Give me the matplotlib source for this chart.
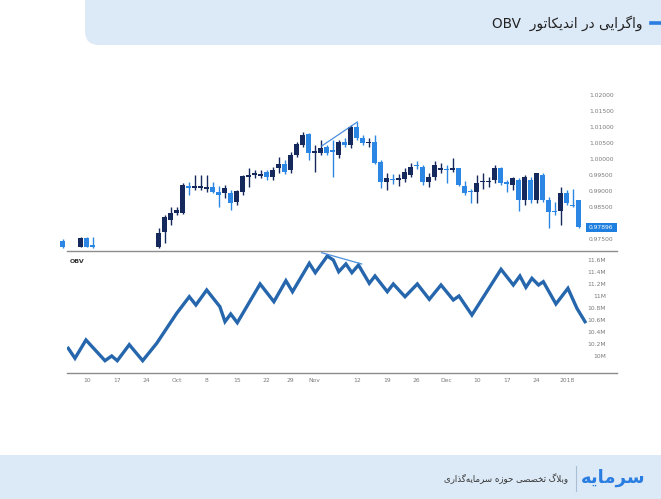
import matplotlib
matplotlib.use("Agg")
import matplotlib.pyplot as plt
from matplotlib.patches import FancyBboxPatch, Rectangle
from matplotlib.lines import Line2D
import matplotlib.transforms as mtransforms

# ---------------- data ----------------
candle_idx = [0, 3, 4, 5] + list(range(16, 87))
opens = [0.97476, 0.97289, 0.97560, 0.97340,
         0.97289, 0.97747, 0.98122, 0.98340, 0.98350, 0.99183, 0.99120, 0.99110, 0.99080, 0.99161,
         0.99005, 0.98964, 0.98964, 0.98693, 0.99005, 0.99473, 0.99526, 0.99510, 0.99629, 0.99473,
         0.99744, 0.99869, 0.99682, 1.00150, 1.00462, 1.00805, 1.00222, 1.00212, 1.00399, 1.00306,
         1.00150, 1.00565, 1.00462, 1.01033, 1.00680, 1.00524, 1.00565, 0.99941, 0.99317, 0.99416,
         0.99370, 0.99401, 0.99526, 0.99854, 0.99785, 0.99317, 0.99473, 0.99698, 0.99729, 0.99682,
         0.99730, 0.99183, 0.99042, 0.99005, 0.99308, 0.99308, 0.99370, 0.99735, 0.99308, 0.99214,
         0.99370, 0.98746, 0.99370, 0.98746, 0.99526, 0.98746, 0.98418, 0.98412, 0.98974, 0.98606,
         0.98746]
highs = [0.97529, 0.97591, 0.97600, 0.97580,
         0.97872, 0.98278, 0.98527, 0.98527, 0.99286, 0.99317, 0.99526, 0.99526, 0.99526, 0.99317,
         0.99183, 0.99214, 0.99058, 0.99058, 0.99526, 0.99744, 0.99682, 0.99682, 0.99682, 0.99785,
         1.00097, 0.99994, 1.00253, 1.00565, 1.00877, 1.00827, 1.00462, 1.00618, 1.00462, 1.00618,
         1.00618, 1.00680, 1.01086, 1.01189, 1.00774, 1.00680, 1.00774, 0.99994, 0.99579, 0.99557,
         0.99557, 0.99735, 0.99891, 0.99972, 0.99838, 0.99579, 0.99972, 0.99891, 0.99838, 1.00047,
         0.99740, 0.99339, 0.99089, 0.99526, 0.99598, 0.99473, 0.99838, 0.99785, 0.99370, 0.99473,
         0.99432, 0.99526, 0.99473, 0.99598, 0.99579, 0.98849, 0.98693, 0.99142, 0.99049, 0.99080,
         0.98760]
lows = [0.97264, 0.97273, 0.97273, 0.97240,
        0.97248, 0.97404, 0.97966, 0.98278, 0.98309, 0.98902, 0.99058, 0.99058, 0.99005, 0.98955,
        0.98537, 0.98808, 0.98434, 0.98590, 0.98902, 0.99161, 0.99423, 0.99432, 0.99370, 0.99370,
        0.99579, 0.99557, 0.99579, 1.00097, 1.00409, 0.99994, 0.99629, 1.00150, 1.00150, 0.99473,
        1.00056, 1.00409, 1.00359, 1.00618, 1.00462, 1.00409, 0.99870, 0.99120, 0.99058, 0.99245,
        0.99183, 0.99317, 0.99473, 0.99713, 0.99214, 0.99142, 0.99370, 0.99579, 0.99286, 0.99629,
        0.99190, 0.98902, 0.98652, 0.98652, 0.99080, 0.99161, 0.99267, 0.99214, 0.99005, 0.99058,
        0.98412, 0.98590, 0.98643, 0.98643, 0.98693, 0.97863, 0.98278, 0.97966, 0.98590, 0.98518,
        0.97880]
closes = [0.97289, 0.97560, 0.97289, 0.97290,
          0.97716, 0.98215, 0.98340, 0.98434, 0.99214, 0.99120, 0.99183, 0.99190, 0.99152, 0.99005,
          0.98902, 0.99120, 0.98652, 0.99036, 0.99495, 0.99526, 0.99579, 0.99560, 0.99473, 0.99682,
          0.99869, 0.99629, 1.00150, 1.00493, 1.00774, 1.00212, 1.00275, 1.00368, 1.00222, 1.00244,
          1.00565, 1.00462, 1.01033, 1.00680, 1.00524, 1.00565, 0.99891, 0.99317, 0.99442, 0.99370,
          0.99432, 0.99629, 0.99785, 0.99807, 0.99317, 0.99473, 0.99838, 0.99744, 0.99698, 0.99744,
          0.99214, 0.98955, 0.98996, 0.99276, 0.99348, 0.99348, 0.99744, 0.99286, 0.99261, 0.99423,
          0.98746, 0.99473, 0.98746, 0.99579, 0.98746, 0.98381, 0.98372, 0.98974, 0.98662, 0.98559,
          0.97896]

obv_x = [0.93, 2.05, 3.88, 7.05, 8.17, 9.1, 11.1, 13.33, 15.67, 19.0, 21.1, 22.2, 24.0, 26.2,
         27.05, 28.0, 29.1, 32.9, 35.2, 37.2, 38.3, 41.1, 42.1, 44.1, 45.1, 46.0, 47.2, 48.2,
         49.3, 51.1, 52.05, 54.1, 55.1, 57.05, 59.1, 61.1, 63.05, 65.1, 66.05, 68.2, 73.05,
         75.1, 76.2, 77.2, 78.2, 79.3, 80.1, 82.2, 84.2, 85.7, 87.05]
obv_m = [10.138, 9.973, 10.276, 9.933, 10.011, 9.933, 10.198, 9.933, 10.221, 10.718, 10.992,
         10.855, 11.103, 10.827, 10.579, 10.706, 10.562, 11.203, 10.910, 11.257, 11.075, 11.545,
         11.390, 11.666, 11.600, 11.406, 11.534, 11.390, 11.517, 11.214, 11.335, 11.075, 11.203,
         10.992, 11.203, 10.949, 11.186, 10.938, 11.004, 10.689, 11.446, 11.186, 11.335, 11.148,
         11.297, 11.186, 11.241, 10.872, 11.131, 10.800, 10.579]

price_div_x = [43.17, 49.1]
price_div_y = [1.00431, 1.01180]
obv_div_x = [43.17, 49.83]
obv_div_y = [11.721, 11.534]

price_ticks = [1.02000, 1.01500, 1.01000, 1.00500, 1.00000, 0.99500, 0.99000, 0.98500, 0.97500]
price_tick_labels = ["1.02000", "1.01500", "1.01000", "1.00500", "1.00000", "0.99500",
                     "0.99000", "0.98500", "0.97500"]
last_price_label = "0.97896"
obv_ticks = [11.6, 11.4, 11.2, 11.0, 10.8, 10.6, 10.4, 10.2, 10.0]
obv_tick_labels = ["11.6M", "11.4M", "11.2M", "11M", "10.8M", "10.6M", "10.4M", "10.2M", "10M"]
date_pos = [4, 9, 14, 19, 24, 29, 34, 38, 42, 49, 54, 59, 64, 69, 74, 79, 84]
date_labels = ["10", "17", "24", "Oct", "8", "15", "22", "29", "Nov", "12", "19", "26",
               "Dec", "10", "17", "24", "2018"]

title_fa = "واگرایی در اندیکاتور"
title_en = "OBV"
footer_fa = "وبلاگ تخصصی حوزه سرمایه\u200cگذاری"
logo_fa = "سرمایه"

# ---------------- simple Persian shaping ----------------
FORMS = {
    '\u0627': ('\uFE8D', '\uFE8E', None, None),
    '\u0622': ('\uFE81', '\uFE82', None, None),
    '\u0628': ('\uFE8F', '\uFE90', '\uFE91', '\uFE92'),
    '\u067E': ('\uFB56', '\uFB57', '\uFB58', '\uFB59'),
    '\u062A': ('\uFE95', '\uFE96', '\uFE97', '\uFE98'),
    '\u062B': ('\uFE99', '\uFE9A', '\uFE9B', '\uFE9C'),
    '\u062C': ('\uFE9D', '\uFE9E', '\uFE9F', '\uFEA0'),
    '\u0686': ('\uFB7A', '\uFB7B', '\uFB7C', '\uFB7D'),
    '\u062D': ('\uFEA1', '\uFEA2', '\uFEA3', '\uFEA4'),
    '\u062E': ('\uFEA5', '\uFEA6', '\uFEA7', '\uFEA8'),
    '\u062F': ('\uFEA9', '\uFEAA', None, None),
    '\u0630': ('\uFEAB', '\uFEAC', None, None),
    '\u0631': ('\uFEAD', '\uFEAE', None, None),
    '\u0632': ('\uFEAF', '\uFEB0', None, None),
    '\u0698': ('\uFB8A', '\uFB8B', None, None),
    '\u0633': ('\uFEB1', '\uFEB2', '\uFEB3', '\uFEB4'),
    '\u0634': ('\uFEB5', '\uFEB6', '\uFEB7', '\uFEB8'),
    '\u0635': ('\uFEB9', '\uFEBA', '\uFEBB', '\uFEBC'),
    '\u0636': ('\uFEBD', '\uFEBE', '\uFEBF', '\uFEC0'),
    '\u0637': ('\uFEC1', '\uFEC2', '\uFEC3', '\uFEC4'),
    '\u0638': ('\uFEC5', '\uFEC6', '\uFEC7', '\uFEC8'),
    '\u0639': ('\uFEC9', '\uFECA', '\uFECB', '\uFECC'),
    '\u063A': ('\uFECD', '\uFECE', '\uFECF', '\uFED0'),
    '\u0641': ('\uFED1', '\uFED2', '\uFED3', '\uFED4'),
    '\u0642': ('\uFED5', '\uFED6', '\uFED7', '\uFED8'),
    '\u06A9': ('\uFB8E', '\uFB8F', '\uFB90', '\uFB91'),
    '\u06AF': ('\uFB92', '\uFB93', '\uFB94', '\uFB95'),
    '\u0644': ('\uFEDD', '\uFEDE', '\uFEDF', '\uFEE0'),
    '\u0645': ('\uFEE1', '\uFEE2', '\uFEE3', '\uFEE4'),
    '\u0646': ('\uFEE5', '\uFEE6', '\uFEE7', '\uFEE8'),
    '\u0647': ('\uFEE9', '\uFEEA', '\uFEEB', '\uFEEC'),
    '\u0648': ('\uFEED', '\uFEEE', None, None),
    '\u06CC': ('\uFBFC', '\uFBFD', '\uFBFE', '\uFBFF'),
}


def shape_rtl(text):
    chars = list(text)
    n = len(chars)
    res = []
    i = 0

    def joins_next(c):
        return c in FORMS and FORMS[c][2] is not None

    while i < n:
        c = chars[i]
        if c not in FORMS:
            if c != '\u200c':
                res.append(c)
            i += 1
            continue
        prev = chars[i - 1] if i > 0 else None
        cprev = prev is not None and joins_next(prev)
        if c == '\u0644' and i + 1 < n and chars[i + 1] in ('\u0627', '\u0622'):
            lig = {'\u0627': ('\uFEFB', '\uFEFC'), '\u0622': ('\uFEF5', '\uFEF6')}[chars[i + 1]]
            res.append(lig[1] if cprev else lig[0])
            i += 2
            continue
        nxt = chars[i + 1] if i + 1 < n else None
        cnext = joins_next(c) and nxt is not None and nxt in FORMS
        iso, fin, ini, med = FORMS[c]
        if cprev and cnext:
            res.append(med)
        elif cprev:
            res.append(fin)
        elif cnext:
            res.append(ini)
        else:
            res.append(iso)
        i += 1
    return ''.join(res)[::-1]


# ---------------- figure ----------------
W, H = 661, 499
fig = plt.figure(figsize=(W / 100, H / 100), dpi=100)
fig.patch.set_facecolor("white")
plt.rcParams['font.family'] = ['DejaVu Sans']

band = "#dce9f6"
hdr = FancyBboxPatch((0.85, 4.54), 6.2, 1.0, boxstyle="round,pad=0,rounding_size=0.14",
                     transform=fig.dpi_scale_trans, fc=band, ec="none", zorder=0)
fig.patches.append(hdr)
ftr = Rectangle((0, 0), 6.61, 0.44, transform=fig.dpi_scale_trans, fc=band, ec="none", zorder=0)
fig.patches.append(ftr)

fig.text(643 / W, 1 - 23 / H, title_en + "  " + shape_rtl(title_fa), ha="right", va="center",
         fontsize=9.8, color="#222222")
fig.add_artist(Line2D([651 / W, 660 / W], [1 - 23 / H, 1 - 23 / H], color="#2a7de1", lw=2.6,
                      transform=fig.transFigure))

fig.text(568 / W, 1 - 479 / H, shape_rtl(footer_fa), ha="right", va="center",
         fontsize=6.2, color="#333333")
fig.add_artist(Line2D([576 / W, 576 / W], [1 - 466 / H, 1 - 491 / H], color="#a8bfd6", lw=0.8,
                      transform=fig.transFigure))
fig.text(613 / W, 1 - 478 / H, shape_rtl(logo_fa), ha="center", va="center",
         fontsize=13, color="#2a7de1", fontweight="bold")

# axes
L, R = 67, 617
ax1 = fig.add_axes([L / W, 1 - 250.7 / H, (R - L) / W, (250.7 - 80) / H])
ax2 = fig.add_axes([L / W, 1 - 372.7 / H, (R - L) / W, 122 / H])
for ax in (ax1, ax2):
    ax.set_xlim(0.72, 92.38)
    for s in ax.spines.values():
        s.set_visible(False)
    ax.spines["bottom"].set_visible(True)
    ax.spines["bottom"].set_color("#8c8c8c")
    ax.spines["bottom"].set_linewidth(1.0)
    ax.set_yticks([])
    ax.patch.set_alpha(0)
ax1.set_ylim(0.97165, 1.0249)
ax2.set_ylim(9.734, 11.754)
ax1.set_xticks([])

dark = "#15295c"
light = "#2b87e3"
for x, o, h, l, c in zip(candle_idx, opens, highs, lows, closes):
    col = dark if c >= o else light
    ax1.vlines(x, l, h, color=col, lw=1.0, zorder=2, clip_on=False)
    bot = min(o, c)
    ht = max(abs(c - o), 0.0004)
    ax1.bar(x, ht, bottom=bot - (0.0002 if abs(c - o) < 0.0004 else 0), width=0.78,
            color=col, zorder=3, linewidth=0, clip_on=False)

ax1.plot(price_div_x, price_div_y, color="#4a8fdc", lw=0.9, zorder=4)

btrans1 = mtransforms.blended_transform_factory(ax1.transAxes, ax1.transData)
for v, lab in zip(price_ticks, price_tick_labels):
    ax1.text((589 - L) / (R - L), v, lab, transform=btrans1, ha="left", va="center",
             fontsize=4.3, color="#7a7a7a", zorder=3)
ax1.add_patch(Rectangle(((586 - L) / (R - L), closes[-1] - 0.00145), (616.7 - 586) / (R - L),
                        0.0029, transform=btrans1, fc="#1f7fe0", ec="none", zorder=5))
ax1.text((589 - L) / (R - L), closes[-1], last_price_label, transform=btrans1, ha="left",
         va="center", fontsize=4.3, color="white", zorder=6)

ax2.plot(obv_x, obv_m, color="#2566ad", lw=2.4, solid_joinstyle="miter", zorder=3)
ax2.plot(obv_div_x, obv_div_y, color="#4a8fdc", lw=0.9, zorder=4)
btrans2 = mtransforms.blended_transform_factory(ax2.transAxes, ax2.transData)
for v, lab in zip(obv_ticks, obv_tick_labels):
    ax2.text((606 - L) / (R - L), v, lab, transform=btrans2, ha="right", va="center",
             fontsize=4.3, color="#7a7a7a")
ax2.text((69.3 - L) / (R - L), 0.91, "OBV", transform=ax2.transAxes, ha="left", va="center",
         fontsize=4.5, color="#333333", fontweight="bold")

ax2.set_xticks(date_pos)
ax2.set_xticklabels(date_labels)
ax2.tick_params(axis="x", length=0, pad=4, labelsize=4.3, labelcolor="#7a7a7a")

fig.savefig("out.png", dpi=100)
